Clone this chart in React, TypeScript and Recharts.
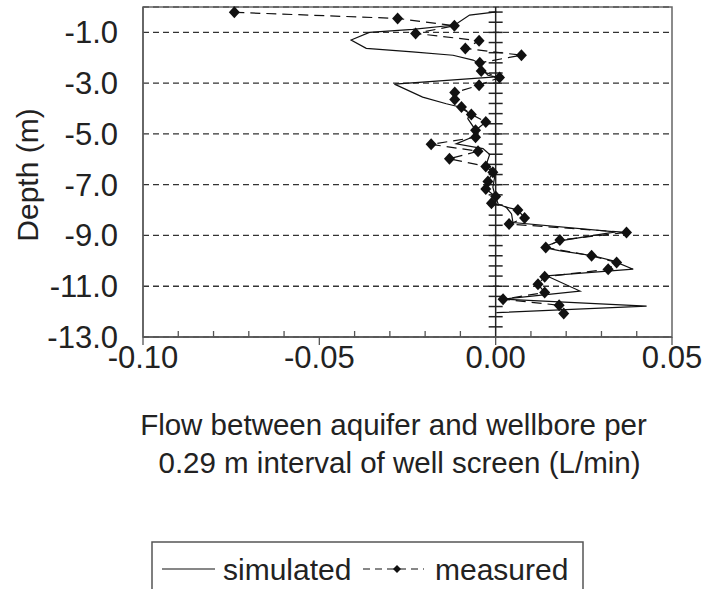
import React from 'react';
import {
  ScatterChart,
  Scatter,
  XAxis,
  YAxis,
  CartesianGrid,
  ReferenceLine,
  ReferenceArea,
} from 'recharts';

// measured flow (L/min) vs depth (m)
const measuredFlow = [
  -0.0741, -0.0278, -0.0117, -0.0227, -0.0047, -0.0086, 0.0073, -0.0045, -0.0041, 0.0011,
  -0.0047, -0.0116, -0.0116, -0.0097, -0.0069, -0.0028, -0.0057, -0.0057, -0.0183, -0.005,
  -0.0131, -0.0028, -0.0008, -0.0022, -0.0028, 0.0, -0.0012, 0.0063, 0.0082, 0.0038,
  0.0371, 0.0182, 0.0142, 0.0272, 0.0343, 0.0319, 0.0139, 0.012, 0.0139, 0.0021,
  0.018, 0.0193,
];
const measuredDepth = [
  -0.21, -0.45, -0.74, -1.04, -1.33, -1.63, -1.9, -2.2, -2.52, -2.78,
  -3.08, -3.37, -3.64, -3.94, -4.23, -4.53, -4.86, -5.13, -5.41, -5.68,
  -5.98, -6.28, -6.51, -6.87, -7.17, -7.47, -7.73, -8.0, -8.31, -8.55,
  -8.88, -9.18, -9.47, -9.8, -10.07, -10.33, -10.63, -10.92, -11.25, -11.51,
  -11.75, -12.07,
];

// simulated flow
const simulatedFlow = [
  0.0002, -0.0074, -0.0116, -0.0235, -0.0358, -0.041, -0.0367, -0.0236, -0.0121, -0.0064,
  -0.0045, -0.0031, -0.0022, 0.0, -0.0287, -0.0207, -0.014, -0.0102, -0.0074, -0.0079,
  -0.006, -0.0055, -0.0112, -0.0036, -0.0017, -0.0026, -0.0008, -0.0003, -0.0008, -0.0003,
  0.0007, 0.003, 0.0045, 0.0049, 0.034, 0.0182, 0.0134, 0.018, 0.0276, 0.0333,
  0.039, 0.0144, 0.0239, 0.0021, 0.0428, 0.0002,
];
const simulatedDepth = [
  -0.19, -0.32, -0.71, -0.88, -1.0, -1.3, -1.63, -1.77, -1.9, -2.09,
  -2.23, -2.56, -2.69, -2.75, -3.04, -3.55, -3.81, -3.94, -4.2, -4.4,
  -4.79, -5.06, -5.39, -5.58, -5.81, -6.18, -6.44, -6.71, -7.1, -7.36,
  -7.76, -7.89, -8.15, -8.49, -8.86, -9.21, -9.47, -9.6, -9.8, -10.0,
  -10.33, -10.59, -11.19, -11.51, -11.78, -12.04,
];

const xTicks = [
  -0.1, -0.09, -0.08, -0.07, -0.06, -0.05, -0.04, -0.03, -0.02, -0.01,
  0, 0.01, 0.02, 0.03, 0.04, 0.05,
];
const yTicks = [-13, -11, -9, -7, -5, -3, -1];

// minor ticks on the depth axis that crosses at zero flow
const zeroAxisMinor = Array.from({ length: 32 }, (_, i) => -13 + 0.4 * (i + 1));

const measured = measuredFlow.map((x, i) => ({ x, y: measuredDepth[i] }));
const simulated = simulatedFlow.map((x, i) => ({ x, y: simulatedDepth[i] }));
const zeroTicks = zeroAxisMinor.map((y) => ({ x: 0, y }));

const FONT = '"Liberation Sans", Arial, sans-serif';
const INK = '#222';

const XTick = (props: any) => {
  const { x, y, payload } = props;
  const v = payload.value as number;
  const major = Math.abs(v * 20 - Math.round(v * 20)) < 1e-6;
  return (
    <g>
      {major ? (
        <line x1={x} x2={x} y1={y} y2={y + 8} stroke="#555" strokeWidth={1.3} />
      ) : (
        <line x1={x} x2={x} y1={y} y2={y - 6} stroke="#555" strokeWidth={1.3} />
      )}
      {major && (
        <text x={x} y={y + 31} textAnchor="middle" fontSize={31} fontFamily={FONT} fill={INK}>
          {v.toFixed(2)}
        </text>
      )}
    </g>
  );
};

const Diamond = (props: any) => {
  const { cx, cy } = props;
  return <path d={`M${cx},${cy - 6}L${cx + 5.5},${cy}L${cx},${cy + 6}L${cx - 5.5},${cy}Z`} fill="#111" />;
};

const Dash = (props: any) => {
  const { cx, cy } = props;
  return <line x1={cx - 7} x2={cx + 7} y1={cy} y2={cy} stroke={INK} strokeWidth={1.5} />;
};

const NoMark = () => <g />;

const Legend = () => (
  <svg
    width={433}
    height={60}
    style={{ position: 'absolute', left: 151, top: 541 }}
  >
    <rect x={1} y={1} width={431} height={70} fill="#fff" stroke="#555" strokeWidth={1.5} />
    <line x1={11} x2={64} y1={28} y2={28} stroke="#111" strokeWidth={1.2} />
    <text x={72} y={39} fontSize={30} fontFamily={FONT} fill={INK}>simulated</text>
    <line x1={212} x2={273} y1={28} y2={28} stroke="#111" strokeWidth={1.2} strokeDasharray="7 5" />
    <path d="M246,24L250,28L246,32L242,28Z" fill="#111" />
    <text x={284} y={39} fontSize={30} fontFamily={FONT} fill={INK}>measured</text>
  </svg>
);

export default function App() {
  return (
    <div
      style={{
        position: 'absolute',
        left: 0,
        top: 0,
        width: 718,
        height: 589,
        overflow: 'hidden',
        background: '#fff',
      }}
    >
      <ScatterChart
        width={718}
        height={589}
        margin={{ top: 7, right: 46, bottom: 0, left: 0 }}
      >
        <CartesianGrid
          vertical={false}
          stroke="#333"
          strokeWidth={1.3}
          strokeDasharray="6 4"
        />
        <XAxis
          type="number"
          dataKey="x"
          domain={[-0.1, 0.05]}
          ticks={xTicks}
          interval={0}
          tick={<XTick />}
          tickLine={false}
          tickSize={0}
          tickMargin={0}
          axisLine={{ stroke: '#555', strokeWidth: 1.3 }}
          height={252}
          label={{
            content: (p: any) => {
              const vb = p.viewBox;
              const cx = vb.x + vb.width / 2 - 14;
              return (
                <g fontFamily={FONT} fontSize={29.5} fill={INK}>
                  <text x={cx} y={vb.y + 98} textAnchor="middle">
                    Flow between aquifer and wellbore per
                  </text>
                  <text x={cx + 6} y={vb.y + 136} textAnchor="middle">
                    0.29 m interval of well screen (L/min)
                  </text>
                </g>
              );
            },
          }}
        />
        <YAxis
          type="number"
          dataKey="y"
          domain={[-13, 0]}
          ticks={yTicks}
          interval={0}
          tickFormatter={(v: number) => v.toFixed(1)}
          tick={{ fontSize: 31, fontFamily: FONT, fill: INK }}
          tickLine={false}
          tickSize={0}
          tickMargin={25}
          axisLine={{ stroke: '#555', strokeWidth: 1.3 }}
          width={143}
          label={{
            content: (p: any) => {
              const vb = p.viewBox;
              const lx = vb.x + 27;
              const ly = vb.y + 168;
              return (
                <text
                  x={lx}
                  y={ly}
                  transform={`rotate(-90, ${lx}, ${ly})`}
                  textAnchor="middle"
                  dominantBaseline="central"
                  fontFamily={FONT}
                  fontSize={30}
                  fill={INK}
                >
                  Depth (m)
                </text>
              );
            },
          }}
        />
        <ReferenceArea
          x1={-0.1}
          x2={0.05}
          y1={-13}
          y2={0}
          fill="none"
          stroke="#666"
          strokeWidth={1.5}
        />
        <ReferenceLine x={0} stroke={INK} strokeWidth={1.5} />
        <Scatter data={zeroTicks} shape={<Dash />} isAnimationActive={false} />
        <Scatter
          data={simulated}
          shape={<NoMark />}
          line={{ stroke: '#111', strokeWidth: 1.2 }}
          lineType="joint"
          isAnimationActive={false}
        />
        <Scatter
          data={measured}
          shape={<Diamond />}
          line={{ stroke: '#111', strokeWidth: 1.2, strokeDasharray: '10 6' }}
          lineType="joint"
          isAnimationActive={false}
        />
      </ScatterChart>
      <Legend />
    </div>
  );
}
